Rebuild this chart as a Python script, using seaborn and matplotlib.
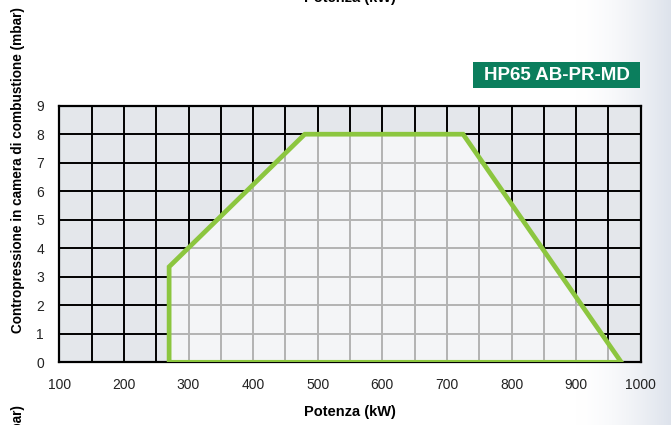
import numpy as np
import pandas as pd
import matplotlib
matplotlib.use("Agg")
import matplotlib.pyplot as plt
from matplotlib.patches import Polygon, Rectangle
import seaborn as sns

# --- data ---
power_kw = [270, 270, 480, 725, 970, 270]
pressure_mbar = [0, 3.35, 8, 8, 0, 0]
x_ticks = [100, 200, 300, 400, 500, 600, 700, 800, 900, 1000]
y_ticks = [0, 1, 2, 3, 4, 5, 6, 7, 8, 9]
model_name = "HP65 AB-PR-MD"
x_label = "Potenza (kW)"
y_label = "Contropressione in camera di combustione (mbar)"

sns.set_theme(style="white")
plt.rcParams['font.family'] = ['Liberation Sans', 'DejaVu Sans']

W, H = 671, 425
fig = plt.figure(figsize=(W / 100, H / 100), dpi=100)

# background gradient (right side)
bg = fig.add_axes([0, 0, 1, 1], zorder=-10)
xs = np.linspace(0, 1, 400)
t = np.clip((xs - 0.86) / 0.14, 0, 1) ** 1.6
white = np.array([1.0, 1.0, 1.0])
edge = np.array([0.87, 0.89, 0.925])
row = white[None, :] * (1 - t[:, None]) + edge[None, :] * t[:, None]
img = np.repeat(row[None, :, :], 10, axis=0)
bg.imshow(img, aspect='auto', extent=[0, 1, 0, 1])
bg.set_axis_off()

ax = fig.add_axes([59.3 / W, 1 - 362.3 / H, 581.4 / W, 256.6 / H])
ax.set_xlim(100, 1000)
ax.set_ylim(0, 9)
ax.set_facecolor("#e4e7eb")

xgrid = np.arange(100, 1001, 50)
ygrid = np.arange(0, 10, 1)
ax.vlines(xgrid, 0, 9, colors="black", linewidth=1.4, zorder=1)
ax.hlines(ygrid, 100, 1000, colors="black", linewidth=1.4, zorder=1)

poly = Polygon(np.column_stack([power_kw, pressure_mbar]), closed=True,
               facecolor="#f4f5f7", edgecolor="none", zorder=2)
ax.add_patch(poly)
clip = Polygon(np.column_stack([power_kw, pressure_mbar]), closed=True,
               transform=ax.transData, facecolor="none", edgecolor="none")
vl = ax.vlines(xgrid, 0, 9, colors="#b3b3b3", linewidth=1.4, zorder=3)
hl = ax.hlines(ygrid, 100, 1000, colors="#b3b3b3", linewidth=1.4, zorder=3)
vl.set_clip_path(clip)
hl.set_clip_path(clip)

df = pd.DataFrame({"Potenza": power_kw, "Pressione": pressure_mbar})
sns.lineplot(data=df, x="Potenza", y="Pressione", sort=False, estimator=None,
             color="#8cc63f", linewidth=3.4, ax=ax, zorder=5,
             solid_joinstyle="miter", solid_capstyle="butt")

ax.set_xticks(x_ticks)
ax.set_yticks(y_ticks)
ax.set_xticklabels([str(v) for v in x_ticks])
ax.set_yticklabels([str(v) for v in y_ticks])
ax.tick_params(axis="both", length=0, labelsize=10, colors="#222222")
ax.tick_params(axis="x", pad=11)
ax.tick_params(axis="y", pad=11)
ax.set_xlabel("")
ax.set_ylabel("")
for s in ax.spines.values():
    s.set_color("black")
    s.set_linewidth(1.6)
    s.set_zorder(4)

# axis labels
fig.text(350 / W, 1 - 412 / H, x_label, ha="center", va="center",
         fontsize=10.5, fontweight="bold", color="black")
fig.text(18 / W, 1 - 170 / H, y_label, ha="center", va="center",
         rotation=90, fontsize=9.8, fontweight="bold", color="black")

# cut-off remnants from neighbouring charts
fig.text(350 / W, 1 - 5 / H, x_label, ha="center", va="bottom",
         fontsize=10.5, fontweight="bold", color="black")
fig.text(18 / W, 1 - 405 / H, y_label, ha="center", va="top",
         rotation=90, fontsize=9.8, fontweight="bold", color="black")

# model badge
fig.patches.append(Rectangle((473 / W, 1 - 88 / H), 167 / W, 26 / H,
                             transform=fig.transFigure, facecolor="#0b7e5d",
                             edgecolor="none", zorder=5))
fig.text(556.5 / W, 1 - 75.5 / H, model_name, ha="center", va="center",
         fontsize=13.5, fontweight="bold", color="white", zorder=6)

fig.savefig("out.png", dpi=100)
